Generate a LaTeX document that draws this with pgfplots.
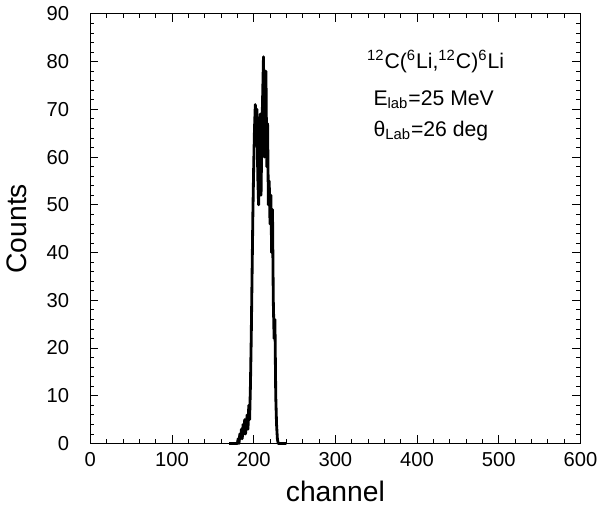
\documentclass[border=0pt]{standalone}
\usepackage{fontspec}
\setmainfont{Liberation Sans}
\usepackage{pgfplots}
\pgfplotsset{compat=1.18}

\pgfplotstableread{
ch cnt
170 0
180 0
181 1
182 0
183 2
184 1
185 3
186 1
187 4
188 2
189 5
190 2
191 4
192 6
193 3
194 8
195 5
196 12
197 22
198 35
199 48
200 58
201 66
202 71
203 64
204 70
205 56
206 50
207 62
208 69
209 52
210 65
211 73
212 81
213 60
214 70
215 78
216 58
217 67
218 50
219 55
220 46
221 52
222 40
223 49
224 30
225 22
226 26
227 10
228 4
229 1
230 0
240 0
}\spectrum

\begin{document}
\begin{tikzpicture}
\begin{axis}[
    scale only axis,
    width=243pt, height=213pt,
    xmin=0, xmax=600, ymin=0, ymax=90,
    xtick={0,100,...,600}, ytick={0,10,...,90},
    minor x tick num=4, minor y tick num=4,
    tick align=inside,
    major tick length=4pt, minor tick length=2pt,
    tick style={black, line width=0.4pt},
    axis line style={line width=0.6pt},
    ticklabel style={font=\fontsize{10}{12}\selectfont},
    yticklabel style={xshift=-7pt},
    xticklabel style={yshift=-1pt},
    /pgf/number format/assume math mode=true,
    xlabel={channel}, ylabel={Counts},
    label style={font=\fontsize{14}{16}\selectfont},
    xlabel style={yshift=0pt},
    ylabel style={yshift=3pt},
    clip=false,
]
\addplot[black, line width=1.4pt, line join=round] table[x=ch, y=cnt] {\spectrum};
\node[anchor=west, font=\fontsize{10.5}{12}\selectfont] at (axis cs:330,80)
  {\textsuperscript{12}C(\textsuperscript{6}Li,\textsuperscript{12}C)\textsuperscript{6}Li};
\node[anchor=west, font=\fontsize{10.5}{12}\selectfont] at (axis cs:338,72)
  {E\textsubscript{lab}=25 MeV};
\node[anchor=west, font=\fontsize{10.5}{12}\selectfont] at (axis cs:338,65.5)
  {θ\textsubscript{Lab}=26 deg};
\end{axis}
\end{tikzpicture}
\end{document}
